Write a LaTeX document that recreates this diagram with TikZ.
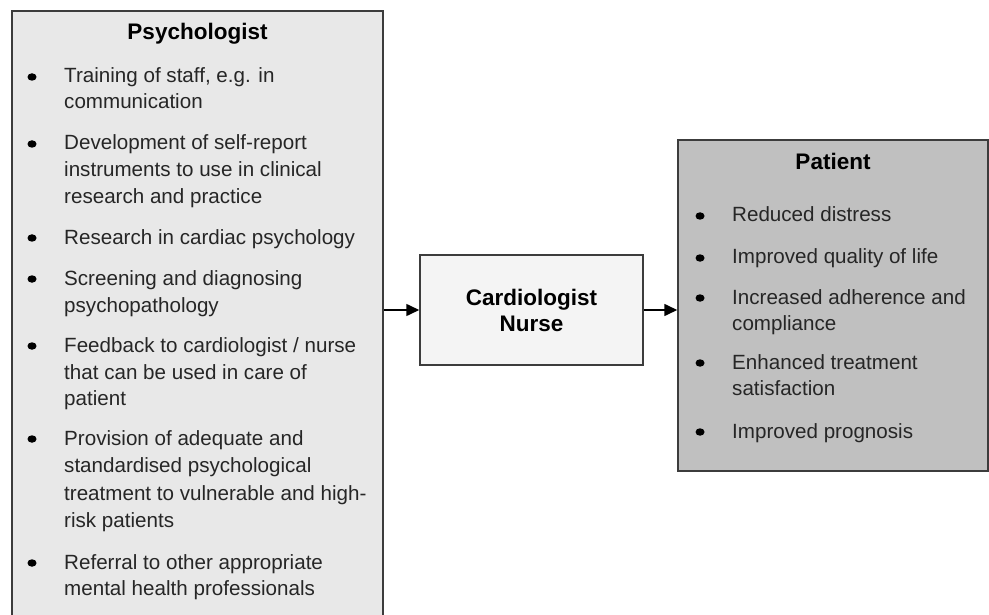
\documentclass[tikz,border=0pt]{standalone}
\usepackage{fontspec}
\setmainfont{Liberation Sans}
\usetikzlibrary{arrows.meta}
\definecolor{boxline}{HTML}{3C3C3C}
\definecolor{leftfill}{HTML}{E8E8E8}
\definecolor{midfill}{HTML}{F4F4F4}
\definecolor{rightfill}{HTML}{C0C0C0}
\definecolor{txt}{HTML}{262626}
\tikzset{
  panel/.style={draw=boxline, line width=1.5pt, inner sep=0pt, minimum width=#1},
  itemtext/.style={anchor=base west, inner sep=0pt, text=txt, font=\fontsize{20.6}{24}\selectfont},
  titletext/.style={anchor=base, inner sep=0pt, text=black, font=\bfseries\fontsize{22.5}{27}\selectfont},
  bul/.style={ellipse, fill=black, inner sep=0pt, minimum width=9pt, minimum height=7.5pt},
  flow/.style={line width=1.6pt, -{Triangle[length=13pt,width=12pt]}}
}
\usetikzlibrary{shapes.geometric}
\begin{document}
\begin{tikzpicture}[x=1pt,y=-1pt]
\useasboundingbox[fill=white] (0,0) rectangle (989,615);

% panels
\node[panel=371pt, fill=leftfill, minimum height=614pt] (lbox) at (197.5,318) {};
\node[panel=223pt, fill=midfill, minimum height=110pt, align=center, text=black,
      font=\bfseries\fontsize{22.5}{26}\selectfont] (cbox) at (531.5,310) {Cardiologist\\Nurse};
\node[panel=310pt, fill=rightfill, minimum height=331pt] (pbox) at (833,305.5) {};

% titles
\node[titletext] (ptitle) at (197.5,39.5) {Psychologist};
\node[titletext] (rtitle) at (833,169.5) {Patient};

% left bullets
\node[bul] (lb1) at (32,77) {};
\node[bul] (lb2) at (32,144) {};
\node[bul] (lb3) at (32,238) {};
\node[bul] (lb4) at (32,279) {};
\node[bul] (lb5) at (32,346) {};
\node[bul] (lb6) at (32,439) {};
\node[bul] (lb7) at (32,563) {};

% left texts (baselines)
\node[itemtext] (l1a) at (64,83) {Training of staff, e.g. in};
\node[itemtext] (l1b) at (64,109) {communication};
\node[itemtext] (l2a) at (64,150) {Development of self-report};
\node[itemtext] (l2b) at (64,177) {instruments to use in clinical};
\node[itemtext] (l2c) at (64,204) {research and practice};
\node[itemtext] (l3a) at (64,244) {Research in cardiac psychology};
\node[itemtext] (l4a) at (64,285) {Screening and diagnosing};
\node[itemtext] (l4b) at (64,312) {psychopathology};
\node[itemtext] (l5a) at (64,352) {Feedback to cardiologist / nurse};
\node[itemtext] (l5b) at (64,379) {that can be used in care of};
\node[itemtext] (l5c) at (64,405) {patient};
\node[itemtext] (l6a) at (64,445) {Provision of adequate and};
\node[itemtext] (l6b) at (64,472) {standardised psychological};
\node[itemtext] (l6c) at (64,500) {treatment to vulnerable and high-};
\node[itemtext] (l6d) at (64,527) {risk patients};
\node[itemtext] (l7a) at (64,569) {Referral to other appropriate};
\node[itemtext] (l7b) at (64,595) {mental health professionals};

% right bullets
\node[bul] (rb1) at (700,216) {};
\node[bul] (rb2) at (700,258) {};
\node[bul] (rb3) at (700,298) {};
\node[bul] (rb4) at (700,363) {};
\node[bul] (rb5) at (700,432) {};

% right texts (baselines)
\node[itemtext] (r1a) at (732,222) {Reduced distress};
\node[itemtext] (r2a) at (732,264) {Improved quality of life};
\node[itemtext] (r3a) at (732,304) {Increased adherence and};
\node[itemtext] (r3b) at (732,330) {compliance};
\node[itemtext] (r4a) at (732,369) {Enhanced treatment};
\node[itemtext] (r4b) at (732,395) {satisfaction};
\node[itemtext] (r5a) at (732,438) {Improved prognosis};

% connectors
\draw[flow] (lbox.east |- cbox.west) -- (cbox.west);
\draw[flow] (cbox.east) -- (pbox.west |- cbox.east);
\end{tikzpicture}
\end{document}
